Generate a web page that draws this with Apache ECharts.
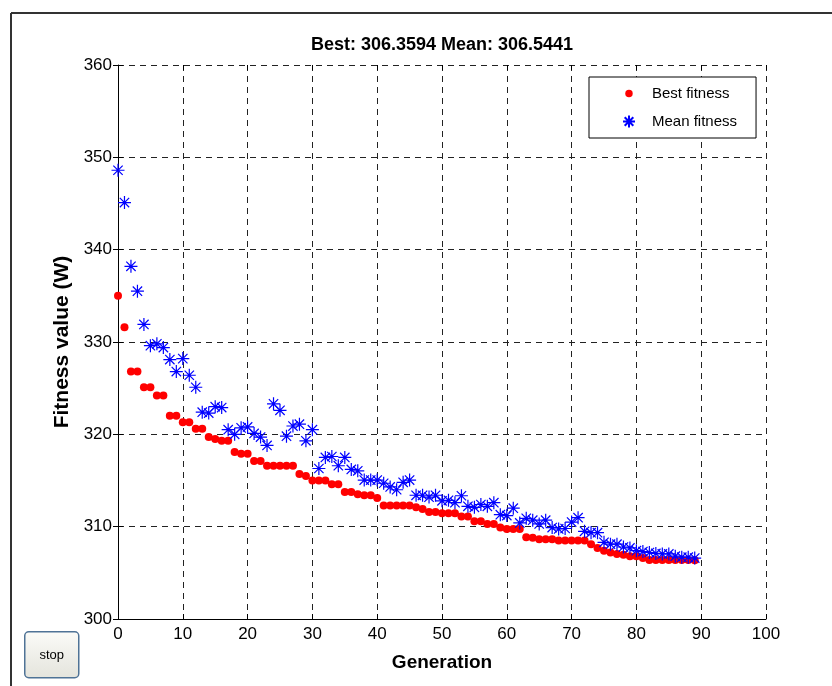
<!DOCTYPE html>
<html>
<head>
<meta charset="utf-8">
<title>GA fitness</title>
<script src="https://cdn.jsdelivr.net/npm/echarts@6/dist/echarts.min.js"></script>
<style>
  html, body { margin: 0; padding: 0; background: #fff; }
  #chart { width: 832px; height: 686px; }
</style>
</head>
<body>
<div id="chart"></div>
<script>
// generation index 0..89
const generations = Array.from({ length: 90 }, (_, i) => i);

const bestFitness = [
  335.0, 331.6, 326.8, 326.8, 325.1, 325.1, 324.2, 324.2, 322.0, 322.0,
  321.3, 321.3, 320.6, 320.6, 319.7, 319.5, 319.3, 319.3, 318.1, 317.9,
  317.9, 317.1, 317.1, 316.6, 316.6, 316.6, 316.6, 316.6, 315.7, 315.5,
  315.0, 315.0, 315.0, 314.6, 314.6, 313.75, 313.75, 313.5, 313.4, 313.4,
  313.1, 312.3, 312.3, 312.3, 312.3, 312.3, 312.1, 311.9, 311.6, 311.6,
  311.45, 311.45, 311.45, 311.1, 311.1, 310.6, 310.6, 310.3, 310.3, 309.9,
  309.75, 309.75, 309.75, 308.85, 308.8, 308.65, 308.65, 308.65, 308.5, 308.5,
  308.5, 308.5, 308.5, 308.1, 307.7, 307.4, 307.2, 307.05, 306.95, 306.8,
  306.8, 306.6, 306.4, 306.4, 306.4, 306.4, 306.4, 306.4, 306.4, 306.36
];

const meanFitness = [
  348.6, 345.1, 338.2, 335.5, 331.9, 329.6, 329.8, 329.4, 328.1, 326.8,
  328.2, 326.4, 325.1, 322.4, 322.3, 323.0, 322.9, 320.5, 320.0, 320.7,
  320.8, 320.1, 319.7, 318.8, 323.3, 322.6, 319.8, 320.9, 321.1, 319.3,
  320.5, 316.3, 317.5, 317.6, 316.6, 317.5, 316.2, 316.05, 315.05, 315.05,
  315.05, 314.7, 314.3, 314.0, 314.8, 315.05, 313.4, 313.4, 313.2, 313.4,
  312.8, 312.85, 312.6, 313.35, 312.2, 312.1, 312.4, 312.2, 312.6, 311.3,
  311.2, 312.0, 310.4, 310.9, 310.7, 310.3, 310.7, 309.9, 309.75, 309.8,
  310.5, 310.97, 309.5, 309.35, 309.35, 308.3, 308.1, 308.1, 307.8, 307.7,
  307.4, 307.3, 307.2, 307.1, 307.05, 307.05, 306.8, 306.7, 306.7, 306.6
];

const titleText = 'Best: 306.3594 Mean: 306.5441';
const seriesNames = ['Best fitness', 'Mean fitness'];

const font = '"Liberation Sans", Arial, sans-serif';
const starPath = 'path://M0,-1L0,1M-1,0L1,0M-0.72,-0.72L0.72,0.72M-0.72,0.72L0.72,-0.72';
const dotIcon = 'path://M-1,-1L-1,-1M1,1L1,1M0,-0.62A0.62,0.62 0 1 1 0,0.62A0.62,0.62 0 1 1 0,-0.62Z';

const gridLine = { show: true, lineStyle: { color: '#222', type: [6, 5], width: 1 } };

const options = {
  backgroundColor: '#fff',
  animation: false,
  title: {
    text: titleText,
    left: 437,
    textAlign: 'center',
    top: 31,
    textStyle: { fontFamily: font, fontSize: 18, fontWeight: 'bold', color: '#000' }
  },
  grid: { left: 118, right: 66, top: 65, bottom: 67 },
  legend: {
    orient: 'vertical',
    left: 589,
    top: 77,
    padding: [9, 19, 9, 33],
    itemWidth: 36,
    itemHeight: 12,
    itemGap: 13,
    borderColor: '#000',
    borderWidth: 1,
    backgroundColor: '#fff',
    textStyle: { fontFamily: font, fontSize: 15, color: '#000' },
    data: [
      { name: seriesNames[0], icon: dotIcon },
      { name: seriesNames[1], icon: starPath }
    ]
  },
  xAxis: [
    {
      type: 'value',
      min: 0,
      max: 100,
      interval: 10,
      name: 'Generation',
      nameLocation: 'middle',
      nameGap: 34,
      nameTextStyle: { fontFamily: font, fontSize: 19, fontWeight: 'bold', color: '#000' },
      axisLine: { show: true, onZero: false, lineStyle: { color: '#000', width: 1 } },
      axisTick: { inside: true, length: 5, lineStyle: { color: '#000' } },
      axisLabel: { fontFamily: font, fontSize: 17, color: '#000', margin: 7 },
      splitLine: gridLine
    },
    {
      type: 'value',
      position: 'top',
      min: 0,
      max: 100,
      interval: 10,
      axisLine: { show: false },
      axisTick: { inside: true, length: 5, lineStyle: { color: '#000' } },
      axisLabel: { show: false },
      splitLine: { show: false }
    }
  ],
  yAxis: [
    {
      type: 'value',
      min: 300,
      max: 360,
      interval: 10,
      name: 'Fitness value (W)',
      nameLocation: 'middle',
      nameGap: 42,
      nameTextStyle: { fontFamily: font, fontSize: 21, fontWeight: 'bold', color: '#000' },
      axisLine: { show: true, onZero: false, lineStyle: { color: '#000', width: 1 } },
      axisTick: { show: true, inside: true, length: 5, lineStyle: { color: '#000' } },
      axisLabel: { fontFamily: font, fontSize: 17, color: '#000', margin: 6 },
      splitLine: gridLine
    },
    {
      type: 'value',
      position: 'right',
      min: 300,
      max: 360,
      interval: 10,
      axisLine: { show: false },
      axisTick: { show: true, inside: true, length: 5, lineStyle: { color: '#000' } },
      axisLabel: { show: false },
      splitLine: { show: false }
    }
  ],
  series: [
    {
      name: seriesNames[0],
      type: 'scatter',
      symbol: 'circle',
      symbolSize: 8,
      itemStyle: { color: '#ff0000', opacity: 1 },
      data: generations.map((g, i) => [g, bestFitness[i]])
    },
    {
      name: seriesNames[1],
      type: 'scatter',
      symbol: starPath,
      symbolSize: 13,
      itemStyle: { color: '#0000ff', borderColor: '#0000ff', borderWidth: 1.2, opacity: 1 },
      data: generations.map((g, i) => [g, meanFitness[i]])
    }
  ],
  graphic: [
    { type: 'line', shape: { x1: 11, y1: 13, x2: 832, y2: 13 }, style: { stroke: '#333', lineWidth: 2 } },
    { type: 'line', shape: { x1: 11, y1: 13, x2: 11, y2: 686 }, style: { stroke: '#333', lineWidth: 2 } },
    {
      type: 'group',
      left: 24,
      top: 631,
      children: [
        {
          type: 'rect',
          shape: { x: 0, y: 0, width: 54, height: 46, r: 4 },
          style: {
            fill: new echarts.graphic.LinearGradient(0, 0, 0, 1, [
              { offset: 0, color: '#fbfbf8' },
              { offset: 1, color: '#e4e4dc' }
            ]),
            stroke: '#4f7396',
            lineWidth: 1.5
          }
        },
        {
          type: 'text',
          x: 27,
          y: 24,
          style: { text: 'stop', fontFamily: font, fontSize: 13, fill: '#000', align: 'center', verticalAlign: 'middle' }
        }
      ]
    }
  ]
};

const chart = echarts.init(document.getElementById('chart'));
chart.setOption(options);
</script>
</body>
</html>
